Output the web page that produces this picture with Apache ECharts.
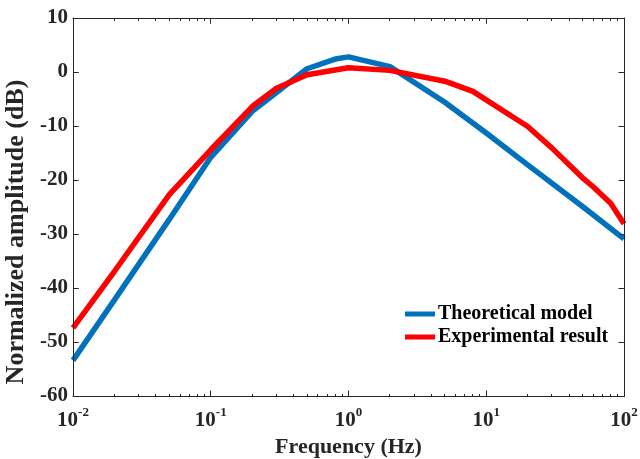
<!DOCTYPE html>
<html>
<head>
<meta charset="utf-8">
<script src="https://cdn.jsdelivr.net/npm/echarts@6/dist/echarts.min.js"></script>
<style>
html,body{margin:0;padding:0;background:#fff;}
#chart{width:640px;height:459px;}
</style>
</head>
<body>
<div id="chart"></div>
<script>
// Theoretical model
const theoFreq = [0.01, 0.02, 0.05, 0.1, 0.2, 0.3, 0.5, 0.8, 1, 2, 5, 10, 20, 50, 100];
const theoAmp  = [-53.4, -42.2, -27.3, -15.8, -7.3, -3.8, 0.6, 2.4, 2.8, 1.0, -5.6, -11.3, -17.2, -24.9, -30.9];
// Experimental result
const expFreq = [0.01, 0.02, 0.05, 0.1, 0.2, 0.3, 0.5, 1, 2, 5, 8, 20, 30, 50, 60, 80, 100];
const expAmp  = [-47.4, -36.9, -22.7, -14.4, -6.4, -3.0, -0.5, 0.8, 0.3, -1.7, -3.6, -10.1, -14.1, -19.6, -21.3, -24.3, -28.1];
// Axis settings / tick values
const seriesNames = ['Theoretical model', 'Experimental result'];
const xMin = 0.01, xMax = 100;
const yMin = -60, yMax = 10, yStep = 10;
const xMajorTicks = [0.01, 0.1, 1, 10, 100];
const yTicks = [-60, -50, -40, -30, -20, -10, 0, 10];
const minorFreq = [];
for (let k = -2; k <= 1; k++) for (let m = 2; m <= 9; m++) minorFreq.push(m * Math.pow(10, k));

const FONT = "'Liberation Serif', 'Times New Roman', serif";
const TXT = '#262626';
const MAJOR = 5.5, MINOR = 3;

const chart = echarts.init(document.getElementById('chart'), null, {renderer: 'canvas'});
function axisLine() { return {show: true, onZero: false, lineStyle: {color: TXT, width: 1}}; }
function axisTick() { return {show: true, inside: true, length: MAJOR, lineStyle: {color: TXT, width: 1}}; }
function bar(x, y, w, h) { return {type: 'rect', shape: {x: x, y: y, width: w, height: h}, style: {fill: TXT}}; }

chart.setOption({
  animation: false,
  grid: {left: 73, right: 16, top: 18, bottom: 63, containLabel: false, outerBoundsMode: 'none'},
  legend: {
    data: seriesNames, orient: 'vertical', left: 405, top: 304, padding: 0,
    icon: 'rect', itemWidth: 30, itemHeight: 5, itemGap: 3,
    textStyle: {fontFamily: FONT, fontWeight: 'bold', fontSize: 20, color: '#000', padding: [0, 0, 0, -2]}
  },
  xAxis: [
    {
      type: 'log', logBase: 10, min: xMin, max: xMax, splitNumber: 4, position: 'bottom',
      axisLine: axisLine(), axisTick: axisTick(), splitLine: {show: false},
      name: 'Frequency (Hz)', nameLocation: 'middle', nameGap: 31,
      nameTextStyle: {fontFamily: FONT, fontWeight: 'bold', fontSize: 22, color: TXT},
      axisLabel: {
        show: true, margin: 10,
        formatter: function (v) {
          const e = Math.round(Math.log10(v));
          return '{b|10}{s|' + e + '}';
        },
        rich: {
          b: {fontFamily: FONT, fontWeight: 'bold', fontSize: 21, color: TXT, lineHeight: 30},
          s: {fontFamily: FONT, fontWeight: 'bold', fontSize: 13, color: TXT, lineHeight: 16, verticalAlign: 'top'}
        }
      }
    },
    {
      type: 'log', logBase: 10, min: xMin, max: xMax, splitNumber: 4, position: 'top',
      axisLine: axisLine(), axisTick: axisTick(), splitLine: {show: false}, axisLabel: {show: false}
    }
  ],
  yAxis: [
    {
      type: 'value', min: yMin, max: yMax, interval: yStep, position: 'left',
      axisLine: axisLine(), axisTick: axisTick(), splitLine: {show: false},
      name: 'Normalized amplitude (dB)', nameLocation: 'middle', nameGap: 40,
      nameTextStyle: {fontFamily: FONT, fontWeight: 'bold', fontSize: 26, color: TXT, padding: [0, 50, 0, 0]},
      axisLabel: {show: true, margin: 5, fontFamily: FONT, fontWeight: 'bold', fontSize: 21, color: TXT}
    },
    {
      type: 'value', min: yMin, max: yMax, interval: yStep, position: 'right',
      axisLine: axisLine(), axisTick: axisTick(), splitLine: {show: false}, axisLabel: {show: false}
    }
  ],
  series: [
    {
      name: seriesNames[0], type: 'line', xAxisIndex: 0, yAxisIndex: 0,
      data: theoFreq.map((f, i) => [f, theoAmp[i]]),
      showSymbol: false, symbol: 'none',
      lineStyle: {color: '#0072BD', width: 5.5}, itemStyle: {color: '#0072BD'}, z: 3
    },
    {
      name: seriesNames[1], type: 'line', xAxisIndex: 0, yAxisIndex: 0,
      data: expFreq.map((f, i) => [f, expAmp[i]]),
      showSymbol: false, symbol: 'none',
      lineStyle: {color: '#FF0000', width: 5.5}, itemStyle: {color: '#FF0000'}, z: 4
    },
    {
      // frame of the plot box, drawn as filled bars through the axes' scales
      name: 'frame', type: 'custom', xAxisIndex: 0, yAxisIndex: 0, silent: true, z: 10, clip: false,
      data: [[xMin, yMin]],
      renderItem: function (params, api) {
        const p0 = api.coord([xMin, yMin]);
        const p1 = api.coord([xMax, yMax]);
        const x0 = Math.floor(p0[0]), x1 = Math.floor(p1[0]);
        const y0 = Math.floor(p0[1]), y1 = Math.floor(p1[1]);
        return {type: 'group', children: [
          bar(x0, y0, x1 - x0 + 1, 1),
          bar(x0, y1, x1 - x0 + 1, 1),
          bar(x0, y1, 1, y0 - y1 + 1),
          bar(x1, y1, 1, y0 - y1 + 1)
        ]};
      }
    },
    {
      // x ticks (major and minor) on bottom and top edges
      name: 'xTicks', type: 'custom', xAxisIndex: 0, yAxisIndex: 0, silent: true, z: 10, clip: false,
      data: xMajorTicks.map(f => [f, 1]).concat(minorFreq.map(f => [f, 0])),
      renderItem: function (params, api) {
        const f = api.value(0);
        const len = api.value(1) === 1 ? MAJOR : MINOR;
        const b = api.coord([f, yMin]);
        const t = api.coord([f, yMax]);
        const x = Math.floor(b[0]);
        return {type: 'group', children: [
          bar(x, Math.floor(b[1]) - len + 1, 1, len),
          bar(x, Math.floor(t[1]), 1, len)
        ]};
      }
    },
    {
      // y ticks on left and right edges
      name: 'yTicks', type: 'custom', xAxisIndex: 0, yAxisIndex: 0, silent: true, z: 10, clip: false,
      data: yTicks.map(v => [xMin, v]),
      renderItem: function (params, api) {
        const v = api.value(1);
        const l = api.coord([xMin, v]);
        const r = api.coord([xMax, v]);
        const y = Math.floor(l[1]);
        return {type: 'group', children: [
          bar(Math.floor(l[0]), y, MAJOR, 1),
          bar(Math.floor(r[0]) - MAJOR + 1, y, MAJOR, 1)
        ]};
      }
    }
  ]
});
</script>
</body>
</html>
